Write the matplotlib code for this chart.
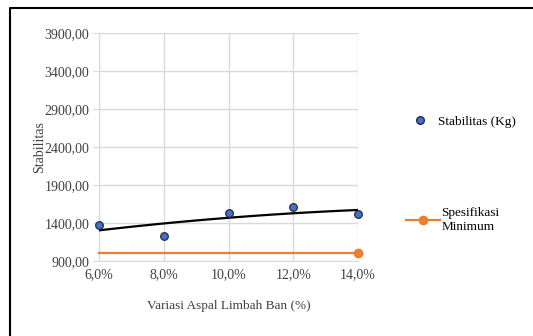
import numpy as np
from matplotlib import pyplot as plt
from matplotlib.lines import Line2D

# kadar aspal limbah ban (%) dan nilai stabilitas (kg)
kadar = [6.0, 8.0, 10.0, 12.0, 14.0]
stabilitas = [1375, 1230, 1530, 1610, 1520]
spesifikasi_min = [1000, 1000, 1000, 1000, 1000]

y_ticks = [900, 1400, 1900, 2400, 2900, 3400, 3900]
x_ticks = [6, 8, 10, 12, 14]

plt.rcParams['font.family'] = ['Liberation Serif', 'DejaVu Serif']

fig = plt.figure(figsize=(5.33, 3.36), dpi=100)
# bingkai luar (hanya sisi atas dan kiri yang terlihat)
fig.add_artist(Line2D([10 / 533, 10 / 533, 1.01], [-0.01, 1 - 8 / 336, 1 - 8 / 336],
                      transform=fig.transFigure, color='black', linewidth=1.5))
ax = fig.add_axes([99 / 533, 1 - 261 / 336, 259 / 533, 228 / 336])

# garis tren polinomial orde 2
koef = np.polyfit(kadar, stabilitas, 2)
xs = np.linspace(6, 14, 100)
ax.plot(xs, np.polyval(koef, xs), color='black', linewidth=1.6, zorder=3)

ax.plot(kadar, spesifikasi_min, color='#ED7D31', linewidth=1.6, zorder=3, clip_on=False)
ax.plot(kadar[-1], spesifikasi_min[-1], 'o', color='#ED7D31', markersize=6, zorder=4, clip_on=False)
ax.scatter(kadar, stabilitas, s=30, color='#4472C4', edgecolor='#1F2A44', linewidth=0.9,
           zorder=5, clip_on=False)

ax.set_xlim(6, 14)
ax.set_ylim(900, 3900)
ax.set_xticks(x_ticks)
ax.set_xticklabels([('%.1f%%' % x).replace('.', ',') for x in x_ticks])
ax.set_yticks(y_ticks)
ax.set_yticklabels([('%.2f' % y).replace('.', ',') for y in y_ticks])
ax.grid(True, color='#D9D9D9', linewidth=1)
ax.set_axisbelow(True)
for s in ['top', 'right']:
  ax.spines[s].set_visible(False)
for s in ['left', 'bottom']:
  ax.spines[s].set_color('#D9D9D9')
ax.tick_params(axis='y', length=4, color='#D9D9D9', labelsize=10, labelcolor='#404040', pad=3)
ax.tick_params(axis='x', length=0, labelsize=10, labelcolor='#404040', pad=5)
ax.set_ylabel('Stabilitas', fontsize=10, color='#404040', labelpad=-1)
ax.set_xlabel('Variasi Aspal Limbah Ban (%)', fontsize=9.5, color='#404040', labelpad=14)

h1 = Line2D([], [], linestyle='none', marker='o', markersize=5.5, color='#4472C4',
            markeredgecolor='#1F2A44')
h2 = Line2D([], [], color='#ED7D31', linewidth=1.6, marker='o', markersize=6)
fig.legend([h1], ['Stabilitas (Kg)'], loc='center left', bbox_to_anchor=(409 / 533, 1 - 122 / 336),
           frameon=False, fontsize=9.5, handlelength=1.6, handletextpad=0.6, borderaxespad=0,
           borderpad=0)
fig.legend([h2], ['Spesifikasi\nMinimum'], loc='center left', bbox_to_anchor=(406 / 533, 1 - 220 / 336),
           frameon=False, fontsize=9.5, handlelength=2.6, handletextpad=0.1, borderaxespad=0,
           borderpad=0)

fig.savefig('out.png', dpi=100)
